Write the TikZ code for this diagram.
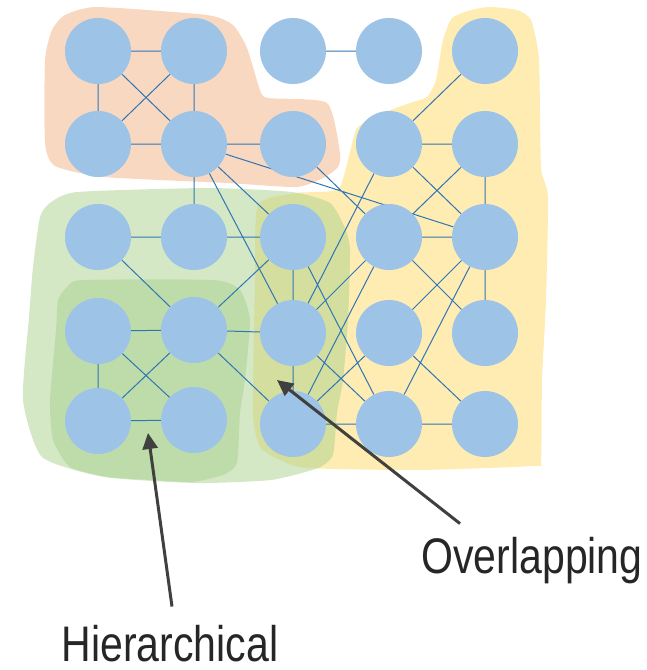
\documentclass[tikz,border=0pt]{standalone}
\usepackage{fontspec}
\setmainfont{Liberation Sans}
\usetikzlibrary{arrows.meta}
\definecolor{nodeblue}{HTML}{9DC3E6}
\definecolor{linkblue}{HTML}{2E75B6}
\definecolor{peach}{HTML}{F4B183}
\definecolor{leafgreen}{HTML}{A9D18E}
\definecolor{butter}{HTML}{FFD966}
\definecolor{pointergray}{HTML}{404040}
\pgfdeclarelayer{blobs}
\pgfdeclarelayer{links}
\pgfsetlayers{blobs,links,main}
\tikzset{
  member/.style={circle,fill=nodeblue,minimum size=66pt,inner sep=0pt},
  link/.style={linkblue,line width=1pt},
  blob/.style={opacity=0.5},
  pointer/.style={pointergray,line width=3pt,-{Triangle[length=16pt,width=15pt]}},
  tag/.style={anchor=base,inner sep=0pt,font=\fontsize{50}{60}\selectfont,text=black!85}
}

\begin{document}
\begin{tikzpicture}[x=1pt,y=-1pt]
\useasboundingbox (0,0) rectangle (646,670);

\node[member] (v11) at (98,51) {};
\node[member] (v12) at (194,51) {};
\node[member] (v13) at (293,51) {};
\node[member] (v14) at (389,51) {};
\node[member] (v15) at (485,51) {};
\node[member] (v21) at (98,144) {};
\node[member] (v22) at (194,144) {};
\node[member] (v23) at (293,144) {};
\node[member] (v24) at (389,144) {};
\node[member] (v25) at (485,144) {};
\node[member] (v31) at (98,237) {};
\node[member] (v32) at (194,237) {};
\node[member] (v33) at (293,237) {};
\node[member] (v34) at (389,237) {};
\node[member] (v35) at (485,237) {};
\node[member] (v41) at (98,331) {};
\node[member] (v42) at (194,330) {};
\node[member] (v43) at (293,333) {};
\node[member] (v44) at (389,333) {};
\node[member] (v45) at (485,333) {};
\node[member] (v51) at (98,421) {};
\node[member] (v52) at (194,420) {};
\node[member] (v53) at (293,424) {};
\node[member] (v54) at (389,424) {};
\node[member] (v55) at (485,424) {};

\begin{pgfonlayer}{links}
\draw[link] (v11) -- (v12) (v11) -- (v21) (v12) -- (v22) (v11) -- (v22) (v12) -- (v21)
  (v21) -- (v22) (v22) -- (v23) (v13) -- (v14) (v15) -- (v24)
  (v24) -- (v25) (v25) -- (v35) (v24) -- (v35) (v25) -- (v34)
  (v22) -- (v35) (v22) -- (v32) (v22) -- (v43) (v22) -- (v33) (v23) -- (v34)
  (v24) -- (v43) (v34) -- (v43) (v34) -- (v53) (v33) -- (v43)
  (v31) -- (v32) (v32) -- (v33) (v31) -- (v42) (v42) -- (v33)
  (v41) -- (v42) (v42) -- (v43) (v41) -- (v51) (v41) -- (v52) (v42) -- (v51) (v51) -- (v52)
  (v42) -- (v53) (v43) -- (v53) (v33) -- (v54) (v43) -- (v54) (v53) -- (v44)
  (v53) -- (v54) (v54) -- (v55) (v35) -- (v45) (v35) -- (v44) (v34) -- (v45)
  (v34) -- (v35) (v35) -- (v54) (v44) -- (v55);
\end{pgfonlayer}

\begin{pgfonlayer}{blobs}
\fill[blob,peach] plot[smooth cycle,tension=0.35] coordinates {(65,15) (97,7) (207,15) (233,25)
  (247,48) (260,90) (268,98) (327,103) (340,153) (338,167) (325,177) (297,187) (227,183)
  (104,177) (55,166) (45,143) (45,60) (52,30)};
\fill[blob,butter] plot[smooth cycle,tension=0.35] coordinates {(471,10) (490,7) (517,10) (531,20)
  (539,60) (541,167) (548,197) (546,300) (542,380) (541,460) (533,466) (417,470) (307,468)
  (280,460) (260,447) (253,413) (255,280) (258,205) (297,193) (320,192) (340,187) (353,140)
  (358,127) (383,113) (410,103) (427,97) (436,80) (443,40) (452,18)};
\fill[blob,leafgreen] plot[smooth cycle,tension=0.35] coordinates {(50,203) (77,192) (208,188)
  (292,192) (330,203) (345,228) (350,250) (348,320) (343,380) (337,413) (333,455) (318,468)
  (271,480) (196,483) (104,477) (42,457) (23,400) (29,317) (33,267) (40,217)};
\fill[blob,leafgreen] plot[smooth cycle,tension=0.35] coordinates {(67,287) (83,280) (213,280)
  (240,290) (250,320) (245,380) (240,413) (237,463) (223,475) (192,482) (150,480) (108,477)
  (70,467) (53,440) (50,400) (56,330) (58,300)};
\end{pgfonlayer}

\coordinate (hiertip) at (148,433);
\coordinate (overtip) at (277,380);
\node[tag] (hier) at (170,661) {\scalebox{0.82}[1]{Hierarchical}};
\node[tag] (over) at (532,573) {\scalebox{0.82}[1]{Overlapping}};
\draw[pointer] ([shift={(2pt,18pt)}]hier.north) -- (hiertip);
\draw[pointer] ([shift={(-72pt,13pt)}]over.north) -- (overtip);
\end{tikzpicture}
\end{document}
